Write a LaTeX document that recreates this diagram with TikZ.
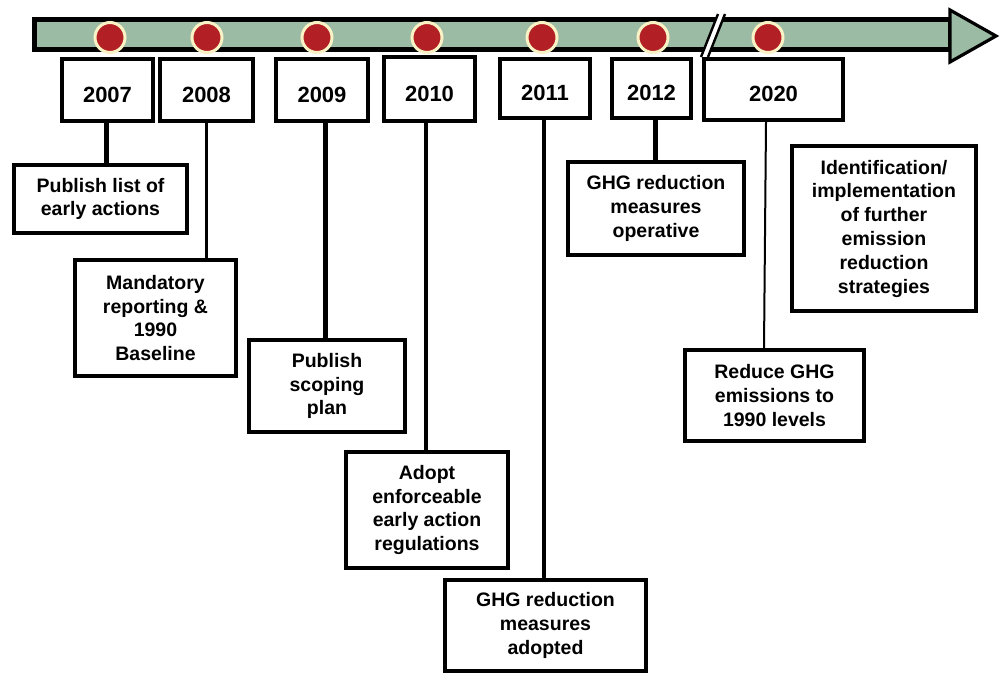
\documentclass[tikz,border=0pt]{standalone}
\usepackage{fontspec}
\setmainfont{Liberation Sans}
\definecolor{bargreen}{HTML}{9CBBA5}
\definecolor{dotred}{HTML}{B22025}
\definecolor{dotring}{HTML}{F8F2C4}
\tikzset{
  yearbox/.style={draw=black, line width=2pt, fill=white, inner sep=0pt,
    font=\bfseries\fontsize{11}{13}\selectfont, text height=12.4pt, text depth=0pt},
  eventbox/.style={draw=black, line width=2pt, fill=white, inner sep=0pt, align=center,
    font=\bfseries\fontsize{9.75}{11.9}\selectfont},
  dot/.style={circle, fill=dotred, draw=dotring, line width=1.5pt, minimum size=15pt, inner sep=0pt},
  thickconn/.style={line width=2.5pt},
  medconn/.style={line width=1.8pt},
  thinconn/.style={line width=1pt}
}
\begin{document}
\begin{tikzpicture}[x=0.5pt,y=-0.5pt]
\useasboundingbox (0,0) rectangle (1000,675);
% timeline bar
\draw[line width=2.5pt, fill=bargreen] (34.5,19.5) rectangle (950,49.5);
\draw[line width=1.6pt, fill=bargreen, line join=miter] (950,10) -- (996,36) -- (950,62) -- cycle;
% break marks
\fill[white] (701,57) -- (718,14) -- (725,14) -- (708,57) -- cycle;
\draw[line width=1.2pt] (701,57) -- (718,14);
\draw[line width=1.2pt] (708,57) -- (725,14);
% dots
\node[dot] (d2007) at (110,37.5) {};
\node[dot] (d2008) at (207,37.5) {};
\node[dot] (d2009) at (317,37.5) {};
\node[dot] (d2010) at (427,37.5) {};
\node[dot] (d2011) at (542,37.5) {};
\node[dot] (d2012) at (653,37.5) {};
\node[dot] (d2020) at (768,37.5) {};
% year boxes
\node[yearbox, minimum width=45.5pt, minimum height=31pt] (y2007) at (107.5,90) {2007};
\node[yearbox, minimum width=46.5pt, minimum height=31pt] (y2008) at (206.5,90) {2008};
\node[yearbox, minimum width=46pt, minimum height=31pt] (y2009) at (322,90) {2009};
\node[yearbox, minimum width=45.5pt, minimum height=32pt] (y2010) at (429.5,89) {2010};
\node[yearbox, minimum width=45pt, minimum height=29.5pt] (y2011) at (545,88.5) {2011};
\node[yearbox, minimum width=39.5pt, minimum height=29.5pt] (y2012) at (651.5,88.5) {2012};
\node[yearbox, minimum width=69.5pt, minimum height=30.5pt] (y2020) at (773.5,89.5) {2020};
% event boxes
\node[eventbox, minimum width=86.5pt, minimum height=34pt] (e2007) at (100.5,199) {Publish list of\\early actions};
\node[eventbox, minimum width=80.5pt, minimum height=58pt] (e2008) at (155.5,318) {Mandatory\\reporting \&\\1990\\Baseline};
\node[eventbox, minimum width=78pt, minimum height=46pt] (e2009) at (327,386) {Publish\\scoping\\plan};
\node[eventbox, minimum width=81pt, minimum height=58pt] (e2010) at (427,510) {Adopt\\enforceable\\early action\\regulations};
\node[eventbox, minimum width=100.5pt, minimum height=45.5pt] (e2011) at (545.5,625.5) {GHG reduction\\measures\\adopted};
\node[eventbox, minimum width=88pt, minimum height=46.5pt] (e2012) at (656,208.5) {GHG reduction\\measures\\operative};
\node[eventbox, minimum width=89.5pt, minimum height=45.5pt] (e2020) at (774.5,395.5) {Reduce GHG\\emissions to\\1990 levels};
\node[eventbox, minimum width=92pt, minimum height=82.5pt] (eid) at (884,228.5) {Identification/\\implementation\\of further\\emission\\reduction\\strategies};
% connectors
\draw[thickconn] ([xshift=-0.75pt]y2007.south) -- ([xshift=-0.75pt]y2007.south |- e2007.north);
\draw[medconn] (y2008.south) -- (y2008.south |- e2008.north);
\draw[thickconn] ([xshift=1.5pt]y2009.south) -- ([xshift=1.5pt]y2009.south |- e2009.north);
\draw[medconn] ([xshift=-1.75pt]y2010.south) -- ([xshift=-1.75pt]y2010.south |- e2010.north);
\draw[medconn] ([xshift=-0.5pt]y2011.south) -- ([xshift=-0.5pt]y2011.south |- e2011.north);
\draw[thickconn] ([xshift=1.75pt]y2012.south) -- ([xshift=1.75pt]y2012.south |- e2012.north);
\draw[thinconn] ([xshift=-3.75pt]y2020.south) -- ([xshift=-5.25pt]e2020.north);
\end{tikzpicture}
\end{document}
